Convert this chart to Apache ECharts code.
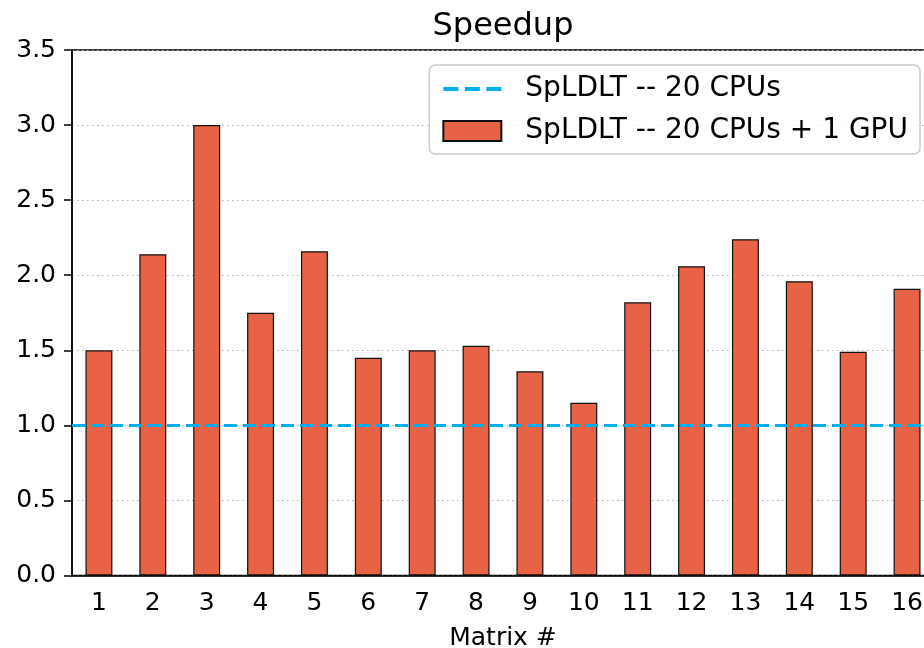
<!DOCTYPE html>
<html>
<head>
<meta charset="utf-8">
<script src="https://cdn.jsdelivr.net/npm/echarts@6/dist/echarts.min.js"></script>
<style>
html,body{margin:0;padding:0;background:#fff;}
#chart{width:924px;height:648px;}
</style>
</head>
<body>
<div id="chart"></div>
<script>
const categories = ['1','2','3','4','5','6','7','8','9','10','11','12','13','14','15','16'];
const gpuSpeedup = [1.50, 2.14, 3.00, 1.75, 2.16, 1.45, 1.50, 1.53, 1.36, 1.15, 1.82, 2.06, 2.24, 1.96, 1.49, 1.91];
const cpuBaseline = 1.0;
const yTicks = [0, 0.5, 1.0, 1.5, 2.0, 2.5, 3.0, 3.5];
const seriesNames = ['SpLDLT -- 20 CPUs', 'SpLDLT -- 20 CPUs + 1 GPU'];

const FONT = 'DejaVu Sans';
const BLUE = '#00adef';
const chart = echarts.init(document.getElementById('chart'), null, {renderer: 'canvas'});
chart.setOption({
  animation: false,
  backgroundColor: '#ffffff',
  textStyle: {fontFamily: FONT, color: '#000'},
  title: {
    text: 'Speedup',
    left: 498,
    textAlign: 'center',
    top: 6,
    textStyle: {fontFamily: FONT, fontSize: 32, fontWeight: 'normal', color: '#000'}
  },
  legend: {
    orient: 'vertical',
    right: 4,
    top: 65,
    padding: [9, 12, 8, 12],
    itemGap: 12,
    itemWidth: 58,
    itemHeight: 20,
    borderColor: '#cccccc',
    borderWidth: 1.5,
    borderRadius: 6,
    backgroundColor: 'rgba(255,255,255,0.8)',
    textStyle: {fontFamily: FONT, fontSize: 28, color: '#000', lineHeight: 30, padding: [0, 0, 0, 19]},
    data: [
      {name: seriesNames[0], itemStyle: {color: 'rgba(0,0,0,0)', borderWidth: 0},
       lineStyle: {color: BLUE, width: 4, type: [15, 6.5]}},
      {name: seriesNames[1], icon: 'rect'}
    ]
  },
  grid: {
    left: 72,
    top: 50,
    width: 862,
    height: 525.5,
    show: true,
    borderColor: '#000',
    borderWidth: 1.5,
    backgroundColor: 'transparent',
    containLabel: false,
    outerBoundsMode: 'none'
  },
  xAxis: {
    type: 'category',
    data: categories,
    name: 'Matrix #',
    nameLocation: 'middle',
    nameGap: 50,
    nameTextStyle: {fontFamily: FONT, fontSize: 25, color: '#000'},
    axisLine: {lineStyle: {color: '#000', width: 1.5}},
    axisTick: {alignWithLabel: true, length: 8, lineStyle: {color: '#000', width: 1.5}},
    axisLabel: {fontFamily: FONT, fontSize: 25, color: '#000', margin: 15},
    splitLine: {show: false}
  },
  yAxis: {
    type: 'value',
    min: yTicks[0],
    max: yTicks[yTicks.length - 1],
    interval: 0.5,
    axisLine: {show: true, lineStyle: {color: '#000', width: 1.5}},
    axisTick: {show: true, length: 8, lineStyle: {color: '#000', width: 1.5}},
    axisLabel: {fontFamily: FONT, fontSize: 25, color: '#000', margin: 16,
      formatter: v => v.toFixed(1)},
    splitLine: {show: true, lineStyle: {color: '#b0b0b0', width: 1.2, type: [1.5, 3.5]}}
  },
  series: [
    {
      name: seriesNames[1],
      type: 'bar',
      data: gpuSpeedup,
      barWidth: '50%',
      itemStyle: {color: '#e86345', borderColor: '#111', borderWidth: 1.2},
      z: 2
    },
    {
      name: seriesNames[0],
      type: 'line',
      data: [],
      symbol: 'none',
      itemStyle: {color: BLUE},
      lineStyle: {color: BLUE, width: 3.2, type: [14, 6]},
      z: 5,
      markLine: {
        silent: true,
        symbol: 'none',
        label: {show: false},
        lineStyle: {color: BLUE, width: 3.2, type: [13, 6]},
        data: [{yAxis: cpuBaseline}],
        z: 5
      }
    }
  ]
});
</script>
</body>
</html>
